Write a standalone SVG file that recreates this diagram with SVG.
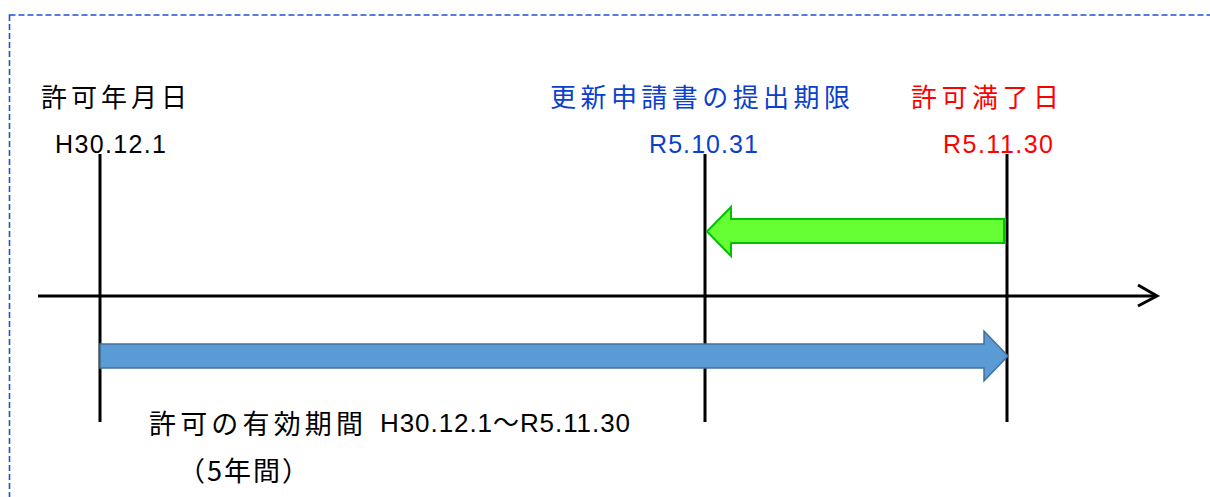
<svg xmlns="http://www.w3.org/2000/svg" width="1210" height="497" viewBox="0 0 1210 497">
  <style>
    .jp { font-family: "Noto Sans CJK JP", "Noto Sans", sans-serif; font-size: 26px; }
    .jpb { font-family: "Noto Sans CJK JP", "Noto Sans", sans-serif; font-size: 27px; }
    .num { font-family: "Liberation Sans", Arial, "Noto Sans CJK JP", sans-serif; font-size: 25px; }
    .numb { font-family: "Liberation Sans", Arial, "Noto Sans CJK JP", sans-serif; font-size: 26px; }
    .blk { fill: #000000; }
    .blu { fill: #0B3FCC; }
    .red { fill: #FF0000; }
    .tick { stroke: #000000; stroke-width: 3; fill: none; }
  </style>
  <rect x="0" y="0" width="1210" height="497" fill="#ffffff"/>
  <rect id="frame" x="9.5" y="15" width="1320" height="600" fill="none" stroke="#1F4FD8" stroke-width="1.6" stroke-dasharray="6 3"/>

  <g id="connectors">
    <line x1="38" y1="296" x2="1156" y2="296" stroke="#000" stroke-width="3"/>
    <polyline points="1138,285 1157,296 1138,306" fill="none" stroke="#000" stroke-width="3"/>
    <line class="tick" x1="100" y1="154" x2="100" y2="422"/>
    <line class="tick" x1="705" y1="154" x2="705" y2="422"/>
    <line class="tick" x1="1007" y1="154" x2="1007" y2="422"/>
  </g>

  <g id="arrow-deadline">
    <path d="M1004,219 L731,219 L731,207 L707,231.5 L731,256 L731,243 L1004,243 Z" fill="#66FF33" stroke="#00C000" stroke-width="2"/>
  </g>
  <g id="arrow-validity">
    <path d="M100,344 L984,344 L984,331 L1008,356 L984,381 L984,368 L100,368 Z" fill="#5B9BD5" stroke="#41719C" stroke-width="1.5"/>
  </g>

  <g id="node-start">
    <text class="jp blk" x="41" y="107" textLength="146" lengthAdjust="spacing">許可年月日</text>
    <text class="num blk" x="55" y="153" textLength="111" lengthAdjust="spacing">H30.12.1</text>
  </g>
  <g id="node-deadline">
    <text class="jp blu" x="550" y="107" textLength="300" lengthAdjust="spacing">更新申請書の提出期限</text>
    <text class="num blu" x="649" y="153" textLength="109" lengthAdjust="spacing">R5.10.31</text>
  </g>
  <g id="node-expiry">
    <text class="jp red" x="911" y="107" textLength="148" lengthAdjust="spacing">許可満了日</text>
    <text class="num red" x="943" y="153" textLength="110" lengthAdjust="spacing">R5.11.30</text>
  </g>
  <g id="node-period">
    <text class="jpb blk" x="149" y="434" textLength="214" lengthAdjust="spacing">許可の有効期間</text>
    <text class="numb blk" x="380" y="432" textLength="250" lengthAdjust="spacing">H30.12.1～R5.11.30</text>
    <text class="jpb blk" x="178" y="481" textLength="131" lengthAdjust="spacing">（5年間）</text>
  </g>
</svg>
